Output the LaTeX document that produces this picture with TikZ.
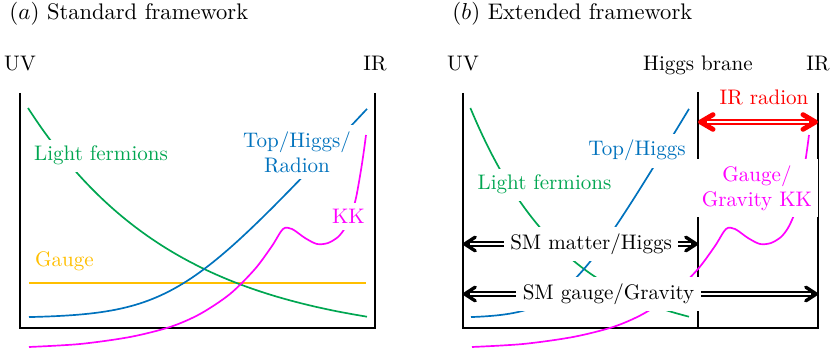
\documentclass[tikz,border=0pt]{standalone}
\usetikzlibrary{arrows.meta}

\definecolor{fermgreen}{RGB}{0,166,81}
\definecolor{higgsblue}{RGB}{0,114,189}
\definecolor{gaugeyellow}{RGB}{255,191,0}
\definecolor{kkmagenta}{RGB}{255,0,255}

% profile curves, in picture units of the left panel
\newcommand{\fermcurve}{\draw[profile, fermgreen] plot[domain=28:367]
  (\x, {108+233*(1-exp(-(\x-28)/150))});}
\newcommand{\topcurve}{\draw[profile, higgsblue] plot[domain=29:367]
  (\x, {318-40.7*ln(1+exp((\x-172)/38))});}
\newcommand{\kkcurve}{\draw[profile, kkmagenta] plot[smooth] coordinates
  {(29,347) (80,344) (130,337) (170,327) (200,314) (230,294) (255,269) (272,246)
   (283,229) (292,229) (305,238) (317,244) (328,243) (338,237) (345,228) (351,215)
   (356,198) (361,170) (364,150) (366,135)};}

\begin{document}
\begin{tikzpicture}[
      x=0.475pt, y=-0.475pt,
      every node/.style={font=\fontsize{10}{12}\selectfont},
      title/.style={anchor=base west, font=\fontsize{10.7}{13}\selectfont},
      brane/.style={line width=1.2pt},
      profile/.style={line width=0.8pt, samples=80},
      tag/.style={fill=white, inner sep=3pt},
      barb/.tip={Straight Barb[length=5pt, width=6.5pt, line width=1.6pt, round]},
      bigbarb/.tip={Straight Barb[length=6pt, width=7pt, line width=2.3pt, round]},
      span/.style={line width=2.6pt, barb-barb,
        postaction={draw=white, line width=1.1pt, arrows=-, shorten <=3.5pt, shorten >=3.5pt}},
      radion/.style={red, line width=3.3pt, bigbarb-bigbarb,
        postaction={draw=white, line width=1.4pt, arrows=-, shorten <=4.5pt, shorten >=4.5pt}},
    ]
    \useasboundingbox (0,0) rectangle (831,350);
    % Titles
    \node[title] (ttlA) at (2,20)   {$(a)$ Standard framework};
    \node[title] (ttlB) at (445,20) {$(b)$ Extended framework};
    \foreach \x/\t/\n in {20/UV/uvA, 375/IR/irA, 463/UV/uvB, 698/Higgs brane/hbB, 818/IR/irB}
      \node[anchor=base] (\n) at (\x,71) {\t};
    % Branes
    \draw[brane] (20,93) |- (375,328) -- (375,93);
    \draw[brane] (463,93) |- (818,328) -- (818,93);
    \draw[brane] (698,92) -- (698,328);
    % (a) profiles
    \draw[profile, gaugeyellow] (29,283) -- (366,283);
    \fermcurve
    \topcurve
    \kkcurve
    % (b) profiles, squeezed between UV and Higgs brane
    \begin{scope}[shift={(452.3,0)}, xscale=0.645]
      \fermcurve
      \topcurve
    \end{scope}
    \begin{scope}[shift={(443,0)}]
      \kkcurve
    \end{scope}
    % (a) labels
    \node[tag, anchor=base, text=fermgreen] (lfA) at (101,161) {Light fermions};
    \node[tag, anchor=base, text=gaugeyellow] (ggA) at (64.5,267) {Gauge};
    \node[tag, align=center, text=higgsblue] (thA) at (297,152) {Top/Higgs/\\Radion};
    \node[tag, anchor=base, text=kkmagenta] (kkA) at (348.5,224) {KK};
    % (b) labels
    \node[tag, anchor=base, text=fermgreen] (lfB) at (544.5,190) {Light fermions};
    \node[tag, anchor=base, text=higgsblue] (thB) at (637,156) {Top/Higgs};
    \node[tag, align=center, text=kkmagenta] (kkB) at (757,188) {Gauge/\\Gravity KK};
    % Spans
    \coordinate (mUV) at (463,244);
    \coordinate (mHB) at (698,244);
    \coordinate (gUV) at (463,294);
    \coordinate (gIR) at (818,294);
    \coordinate (rHB) at (698,122);
    \coordinate (rIR) at (818,122);
    \draw[span] (mUV) -- node[tag, pos=0.545] (smM) {SM matter/Higgs} (mHB);
    \draw[span] (gUV) -- node[tag, pos=0.41] (smG) {SM gauge/Gravity} (gIR);
    \draw[radion] (rHB) -- (rIR);
    \node[anchor=base, text=red] (irR) at (764,105) {IR radion};
  \end{tikzpicture}
\end{document}
